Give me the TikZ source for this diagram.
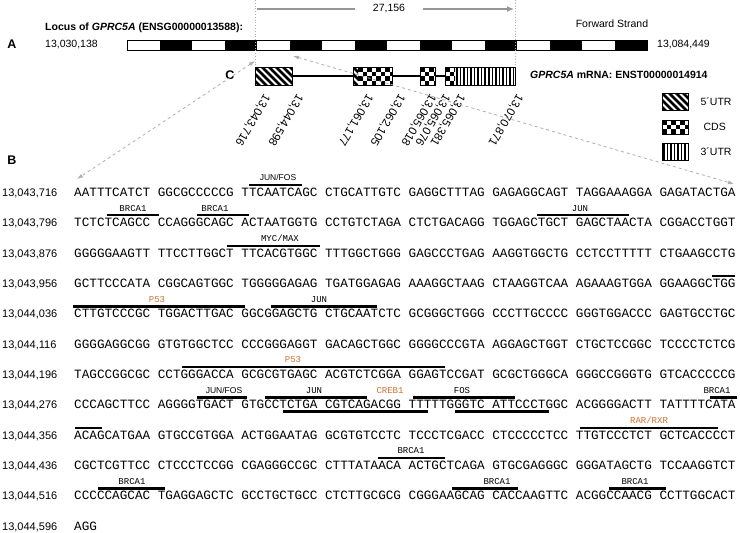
\documentclass[tikz,border=0pt]{standalone}
\usepackage{fontspec}
\setmainfont{Liberation Sans}
\newfontfamily\seqfont{Liberation Mono}
\usetikzlibrary{positioning,arrows.meta}

\definecolor{tforange}{RGB}{214,112,48}
\definecolor{guidegray}{RGB}{175,175,175}
\definecolor{spangray}{RGB}{150,150,150}

% exon fillings: x1 y1 x2 y2
\newcommand{\utrfive}[4]{%
  \begin{scope}
    \clip (#1,#2) rectangle (#3,#4);
    \foreach \k in {-21,-14,...,42}
      \draw[line width=2.6pt] ({#1+\k},#2) -- ++(24,24);
  \end{scope}}
\newcommand{\cdsfill}[4]{%
  \begin{scope}
    \clip (#1,#2) rectangle (#3,#4);
    \foreach \i in {0,...,15}{
      \foreach \j in {0,...,4}{
        \pgfmathtruncatemacro\chk{mod(\i+\j,2)}
        \ifnum\chk=0 \fill ({#1+4.5*\i},{#2+4.5*\j}) rectangle ++(4.5,4.5); \fi
      }}
  \end{scope}}
\newcommand{\utrthree}[4]{%
  \begin{scope}
    \clip (#1,#2) rectangle (#3,#4);
    \foreach \k in {0,...,20}
      \draw[line width=1.6pt] ({#1+1.8+3.55*\k},#2) -- ++(0,20);
  \end{scope}}

% one line of sequence: name, baseline, position, bases
\newcommand{\seqrow}[4]{%
  \node[poslbl] (p#1) at (2,#2) {#3};
  \node[seq] (s#1) at (74,#2) {#4};}
% binding sites: name, baseline, x1, x2, label x, style, label
\newcommand{\tfsite}[7]{%
  \coordinate (#1a) at (#3,#2-11.3);
  \coordinate (#1b) at (#4,#2-11.3);
  \draw[site] (#1a) -- (#1b);
  \node[#6] (#1) at (#5,#2-18.5) {#7};}
\newcommand{\tfbar}[4]{%
  \coordinate (#1a) at (#3,#2-11.3);
  \coordinate (#1b) at (#4,#2-11.3);
  \draw[site] (#1a) -- (#1b);}
\newcommand{\tfunder}[4]{%
  \coordinate (#1a) at (#3,#2+2.8);
  \coordinate (#1b) at (#4,#2+2.8);
  \draw[site] (#1a) -- (#1b);}

\begin{document}
\begin{tikzpicture}[x=1pt, y=-1pt,
  lbl/.style={font=\fontsize{10.5}{12}\selectfont, inner sep=0pt},
  hdr/.style={inner sep=0pt, font=\bfseries\fontsize{10.5}{12}\selectfont},
  panel/.style={inner sep=0pt, font=\bfseries\fontsize{12.5}{14}\selectfont},
  poslbl/.style={inner sep=0pt, anchor=base west, font=\fontsize{11}{13}\selectfont},
  seq/.style={inner sep=0pt, anchor=base west, font=\seqfont\fontsize{12.67}{14}\selectfont},
  tf/.style={inner sep=0pt, font=\seqfont\fontsize{9}{10}\selectfont},
  tfs/.style={inner sep=0pt, font=\fontsize{8.5}{10}\selectfont},
  tfo/.style={tf, text=tforange},
  cutlbl/.style={inner sep=0pt, rotate=240, anchor=west, font=\fontsize{11.5}{13}\selectfont},
  site/.style={line width=2.2pt},
  exon/.style={draw, line width=0.9pt, inner sep=0pt, minimum height=18pt},
  legbox/.style={draw, line width=0.9pt, inner sep=0pt, minimum width=26pt},
  intron/.style={line width=1.5pt},
  guide/.style={guidegray, line width=0.8pt, dashed, {Latex[length=6pt,width=4pt]}-{Latex[length=6pt,width=4pt]}},
  spanline/.style={spangray, line width=1.6pt}
]
\useasboundingbox[fill=white] (0,0) rectangle (740,533);

% A: locus
\node[panel] (pA) at (12,44) {A};
\node[hdr, anchor=west] (locus) at (45,28) {Locus of \textit{GPRC5A} (ENSG00000013588):};
\node[lbl, anchor=west] (locL) at (45,45) {13,030,138};
\node[lbl, anchor=west] (locR) at (657,45) {13,084,449};
\node[lbl] (strand) at (612,24) {Forward Strand};
\foreach \i in {0,...,15}{
  \pgfmathtruncatemacro\chk{mod(\i,2)}
  \ifnum\chk=1 \fill ({127+32.5*\i},40.5) rectangle ++(32.5,9.5); \fi
}
\node[draw, line width=0.8pt, inner sep=0pt, minimum width=520pt, minimum height=9.5pt] (locbar) at (387,45.25) {};

% span of the transcript
\draw[guidegray, line width=0.8pt, dotted] (255,0) -- (255,67);
\draw[guidegray, line width=0.8pt, dotted] (515,0) -- (515,67);
\coordinate (spanA) at (257,9);
\coordinate (spanB) at (514,9);
\node[lbl, inner xsep=18pt] (spanlen) at (389,9) {27,156};
\draw[spanline] (spanA) -- (spanlen);
\draw[spanline, -{Latex[length=7pt,width=6pt]}] (spanlen) -- (spanB);

% C: transcript
\node[panel] (pC) at (230,75) {C};
\utrfive{255}{67}{292}{85}
\utrfive{353}{67}{358}{85}
\cdsfill{358}{67}{392}{85}
\cdsfill{420}{67}{435}{85}
\cdsfill{445}{67}{455}{85}
\utrthree{455}{67}{515}{85}
\node[exon, minimum width=37pt] (ex1) at (273.5,76) {};
\node[exon, minimum width=39pt] (ex2) at (372.5,76) {};
\node[exon, minimum width=15pt] (ex3) at (427.5,76) {};
\node[exon, minimum width=70pt] (ex4) at (480,76) {};
\draw[intron] (ex1) -- (ex2);
\draw[intron] (ex2) -- (ex3);
\draw[intron] (ex3) -- (ex4);
\node[hdr, anchor=west] (mrna) at (530,75) {\textit{GPRC5A} mRNA: ENST00000014914};
\foreach \x/\t [count=\n] in {267/{13,043,716}, 300/{13,044,598}, 370/{13,061,177}, 402/{13,062,105},
    433/{13,065,018}, 447/{13,065,076}, 462/{13,065,381}, 520/{13,070,871}}
  \node[cutlbl] (cut\n) at (\x,95) {\t};

% legend
\utrfive{662}{93}{688}{110}
\cdsfill{662}{120}{688}{134}
\utrthree{662}{143}{688}{160}
\node[legbox, minimum height=17pt] (leg5) at (675,101.5) {};
\node[legbox, minimum height=14pt] (legC) at (675,127) {};
\node[legbox, minimum height=17pt] (leg3) at (675,151.5) {};
\node[lbl, right=12pt of leg5] (leg5t) {5´UTR};
\node[lbl, right=15pt of legC] (legCt) {CDS};
\node[lbl, right=12pt of leg3] (leg3t) {3´UTR};

% zoom guides from exon 1 to panel B
\coordinate (gL1) at (255,61);
\coordinate (gL2) at (77,179);
\coordinate (gR1) at (293,56);
\coordinate (gR2) at (734,184);
\draw[guide] (gL1) -- (gL2);
\draw[guide] (gR1) -- (gR2);

% B: promoter sequence
\node[panel] (pB) at (12,160) {B};
\seqrow{1}{196.3}{13,043,716}{AATTTCATCT GGCGCCCCCG TTCAATCAGC CTGCATTGTC GAGGCTTTAG GAGAGGCAGT TAGGAAAGGA GAGATACTGA}
\seqrow{2}{226.65}{13,043,796}{TCTCTCAGCC CCAGGGCAGC ACTAATGGTG CCTGTCTAGA CTCTGACAGG TGGAGCTGCT GAGCTAACTA CGGACCTGGT}
\seqrow{3}{257.0}{13,043,876}{GGGGGAAGTT TTCCTTGGCT TTCACGTGGC TTTGGCTGGG GAGCCCTGAG AAGGTGGCTG CCTCCTTTTT CTGAAGCCTG}
\seqrow{4}{287.35}{13,043,956}{GCTTCCCATA CGGCAGTGGC TGGGGGAGAG TGATGGAGAG AAAGGCTAAG CTAAGGTCAA AGAAAGTGGA GGAAGGCTGG}
\seqrow{5}{317.7}{13,044,036}{CTTGTCCCGC TGGACTTGAC GGCGGAGCTG CTGCAATCTC GCGGGCTGGG CCCTTGCCCC GGGTGGACCC GAGTGCCTGC}
\seqrow{6}{348.05}{13,044,116}{GGGGAGGCGG GTGTGGCTCC CCCGGGAGGT GACAGCTGGC GGGGCCCGTA AGGAGCTGGT CTGCTCCGGC TCCCCTCTCG}
\seqrow{7}{378.4}{13,044,196}{TAGCCGGCGC CCTGGGACCA GCGCGTGAGC ACGTCTCGGA GGAGTCCGAT GCGCTGGGCA GGGCCGGGTG GTCACCCCCG}
\seqrow{8}{408.75}{13,044,276}{CCCAGCTTCC AGGGGTGACT GTGCCTCTGA CGTCAGACGG TTTTTGGGTC ATTCCCTGGC ACGGGGACTT TATTTTCATA}
\seqrow{9}{439.1}{13,044,356}{ACAGCATGAA GTGCCGTGGA ACTGGAATAG GCGTGTCCTC TCCCTCGACC CTCCCCCTCC TTGTCCCTCT GCTCACCCCT}
\seqrow{10}{469.45}{13,044,436}{CGCTCGTTCC CTCCCTCCGG CGAGGGCCGC CTTTATAACA ACTGCTCAGA GTGCGAGGGC GGGATAGCTG TCCAAGGTCT}
\seqrow{11}{499.8}{13,044,516}{CCCCCAGCAC TGAGGAGCTC GCCTGCTGCC CTCTTGCGCG CGGGAAGCAG CACCAAGTTC ACGGCCAACG CCTTGGCACT}
\seqrow{12}{530.15}{13,044,596}{AGG}

% binding sites
\tfsite{jf1}{196.3}{249}{302}{278}{tfs}{JUN/FOS}
\tfsite{br1}{226.65}{107}{159}{133}{tf}{BRCA1}
\tfsite{br2}{226.65}{197}{249}{215}{tf}{BRCA1}
\tfsite{jun1}{226.65}{537}{629}{580}{tf}{JUN}
\tfsite{myc}{257.0}{227}{320}{280}{tf}{MYC/MAX}
\tfbar{p53a}{287.35}{712}{735}
\tfsite{p53b}{317.7}{73}{245}{157}{tfo}{P53}
\tfsite{jun2}{317.7}{271}{377}{319}{tf}{JUN}
\tfsite{p53c}{378.4}{182}{445}{293}{tfo}{P53}
\tfsite{jf2}{408.75}{197}{247}{224}{tfs}{JUN/FOS}
\tfsite{jun3}{408.75}{265}{367}{314}{tf}{JUN}
\node[tfo] (creb) at (390,408.75-18.5) {CREB1};
\tfunder{crebu}{408.75}{283}{428}
\tfsite{fos}{408.75}{413}{515}{462}{tf}{FOS}
\tfunder{fosu}{408.75}{455}{549}
\tfsite{br3}{408.75}{710}{737}{717}{tf}{BRCA1}
\tfbar{br3c}{439.1}{75}{102}
\tfsite{rar}{439.1}{580}{718}{649}{tfo}{RAR/RXR}
\tfsite{br4}{469.45}{378}{445}{411}{tf}{BRCA1}
\tfsite{br5}{499.8}{98}{165}{132}{tf}{BRCA1}
\tfsite{br6}{499.8}{452}{518}{497}{tf}{BRCA1}
\tfsite{br7}{499.8}{609}{666}{635}{tf}{BRCA1}
\end{tikzpicture}
\end{document}
